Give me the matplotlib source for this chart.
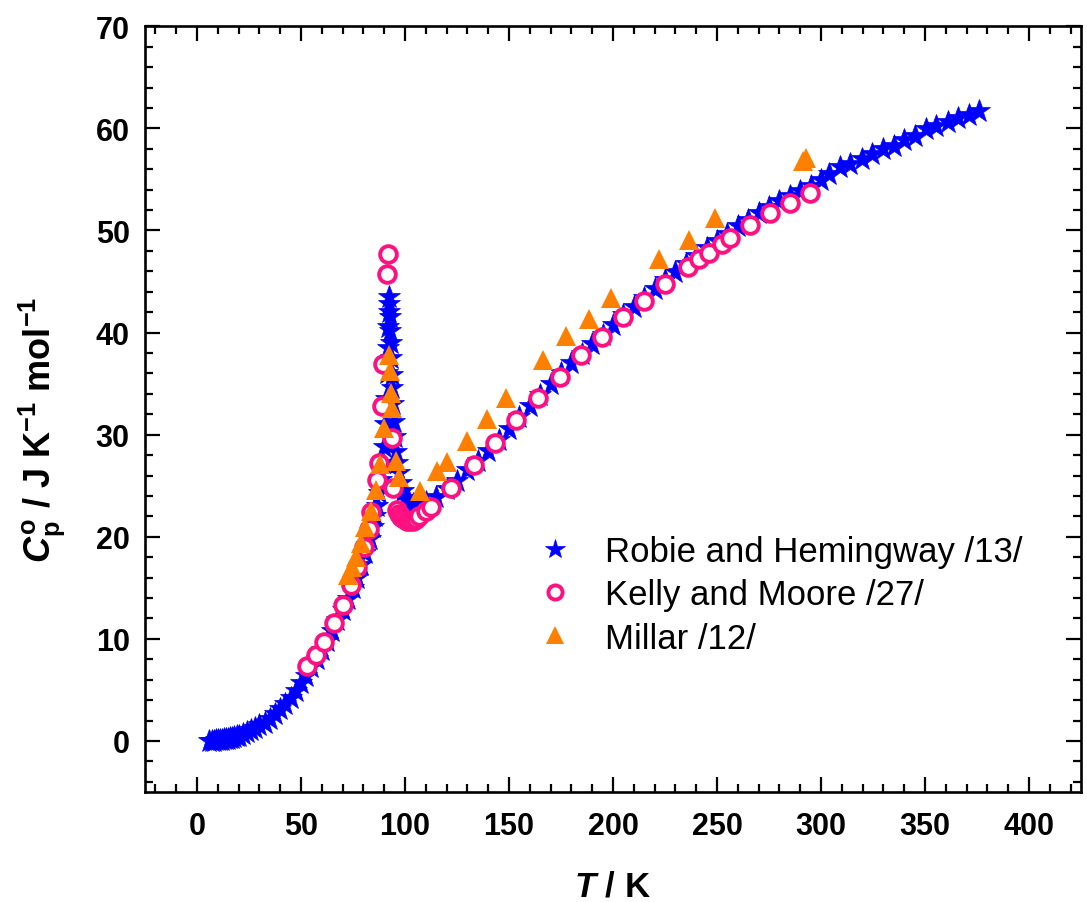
#!/usr/bin/env python3

from matplotlib import pyplot as plt
from matplotlib.ticker import MultipleLocator

# Robie and Hemingway /13/
robie_T = [6, 7, 8, 9, 10, 11, 12, 13, 14, 15, 16, 17, 18, 19, 20, 22, 24, 26, 28, 30,
           32.5, 35, 37.5, 40, 42.5, 45, 47.5, 50, 52.5, 55, 57.5, 60, 62.5, 65, 67.5,
           70, 72.5, 75, 77, 79, 81, 83, 84.5, 85.5, 86.5, 87.5, 88.5, 89.3, 90, 90.6,
           91, 91.4, 91.7, 91.9, 92.1, 92.3, 92.5, 92.7, 92.9, 93.1, 93.3, 93.6, 93.9,
           94.3, 94.8, 95.2, 95.7, 96.3, 97, 98, 99, 100.5, 102, 104, 106, 110, 115,
           120, 125, 130, 135, 140, 145, 150, 155, 160, 165, 170, 175, 180, 185, 190,
           195, 200, 205, 210, 215, 220, 225, 230, 235, 240, 245, 250, 255, 260, 265,
           270, 275, 280, 285, 290, 295, 300, 304, 309, 314, 319.6, 324.4, 330, 335,
           340, 345, 350.7, 355.5, 361, 366, 371, 376]
robie_Cp = [0.01, 0.02, 0.03, 0.05, 0.07, 0.09, 0.12, 0.15, 0.19, 0.23, 0.28, 0.33, 0.39,
            0.45, 0.52, 0.67, 0.85, 1.05, 1.28, 1.52, 1.8, 2.2, 2.6, 3.1, 3.6, 4.2, 4.9,
            5.7, 6.4, 7.2, 8.0, 8.9, 9.8, 10.8, 11.8, 12.8, 13.9, 15.0, 16.0, 17.2, 18.4,
            19.8, 21.0, 22.0, 23.0, 24.3, 25.6, 27.2, 28.8, 31.0, 33.5, 36.0, 38.5, 40.5,
            42.0, 43.5, 42.8, 41.5, 40.2, 39.0, 37.5, 35.8, 34.6, 33.0, 31.2, 29.8, 28.3,
            27.2, 26.2, 25.3, 24.5, 23.8, 23.4, 23.2, 23.2, 23.4, 23.9, 24.7, 25.5, 26.5,
            27.4, 28.4, 29.5, 30.6, 31.7, 32.8, 33.9, 35.0, 36.0, 37.0, 37.9, 38.9, 39.8,
            40.7, 41.7, 42.5, 43.4, 44.3, 45.1, 45.9, 46.7, 47.5, 48.3, 49.0, 49.7, 50.4,
            51.0, 51.7, 52.3, 52.9, 53.4, 53.9, 54.4, 54.9, 55.5, 56.2, 56.5, 57.0, 57.5,
            58.0, 58.3, 58.9, 59.3, 59.9, 60.2, 60.6, 61.0, 61.3, 61.7]

# Kelly and Moore /27/
kelly_T = [53, 57, 61, 66, 70, 74, 77, 80.5, 82.5, 83.7, 86.6, 87.5, 89, 89.2, 91.5, 91.8,
           93.8, 94.3, 96, 97, 98, 99.5, 101, 102.5, 104, 105.5, 106.7, 110, 112.4, 122,
           133, 143.5, 153.6, 164, 174.6, 184.7, 194.7, 204.8, 215, 225, 236, 241.6,
           246, 252.6, 256.5, 266, 275.6, 285, 294.7]
kelly_Cp = [7.3, 8.4, 9.7, 11.6, 13.3, 15.3, 17.0, 19.0, 20.8, 22.4, 25.6, 27.2, 32.8, 36.9,
            45.7, 47.7, 29.7, 24.8, 22.6, 22.2, 21.9, 21.7, 21.5, 21.5, 21.5, 21.7, 22.0,
            22.5, 22.9, 24.8, 27.0, 29.2, 31.4, 33.6, 35.6, 37.8, 39.6, 41.5, 43.1, 44.8,
            46.4, 47.2, 47.8, 48.7, 49.3, 50.5, 51.7, 52.7, 53.7]

# Millar /12/
millar_T = [72.7, 74.6, 76.5, 79, 80.9, 83.7, 86, 88, 90, 92.3, 92.8, 93.2, 93.8, 95.7, 97,
            107, 115.3, 120, 129.7, 139.2, 148.8, 166.5, 177.5, 188.5, 199, 222, 236.4,
            249.3, 291.5, 293]
millar_Cp = [16.3, 17.0, 18.0, 19.4, 21.0, 22.5, 24.6, 27.1, 30.7, 37.8, 36.2, 34.1, 32.6,
             27.4, 25.9, 24.5, 26.4, 27.3, 29.4, 31.5, 33.6, 37.3, 39.7, 41.3, 43.4, 47.2,
             49.1, 51.2, 56.8, 57.1]


def main():
    plt.rcParams['font.family'] = ['Liberation Sans', 'DejaVu Sans']
    plt.rcParams['mathtext.fontset'] = 'custom'
    plt.rcParams['mathtext.rm'] = 'Liberation Sans:bold'
    plt.rcParams['mathtext.it'] = 'Liberation Sans:italic:bold'
    plt.rcParams['mathtext.bf'] = 'Liberation Sans:bold'

    fig = plt.figure(figsize=(10.87, 9.03), dpi=100)
    ax = fig.add_axes([0.1334, 0.1218, 0.861, 0.848])

    ax.plot(robie_T, robie_Cp, linestyle='none', marker='*', markersize=17,
            color='#0000ff', markeredgewidth=0.5, label='Robie and Hemingway /13/')
    ax.plot(kelly_T, kelly_Cp, linestyle='none', marker='o', markersize=12,
            markerfacecolor='white', markeredgecolor='#ff1080', markeredgewidth=2.8,
            label='Kelly and Moore /27/')
    ax.plot(millar_T, millar_Cp, linestyle='none', marker='^', markersize=15,
            color='#ff8000', markeredgewidth=0, label='Millar /12/')

    ax.set_xlim(-25, 425)
    ax.set_ylim(-5, 70)
    ax.xaxis.set_major_locator(MultipleLocator(50))
    ax.xaxis.set_minor_locator(MultipleLocator(10))
    ax.yaxis.set_major_locator(MultipleLocator(10))
    ax.yaxis.set_minor_locator(MultipleLocator(2))

    # ticks inside on all four sides
    ax.tick_params(which='both', direction='in', top=True, right=True, width=1.6)
    ax.tick_params(which='major', length=10.5, labelsize=22)
    ax.tick_params(axis='x', which='major', pad=14)
    ax.tick_params(axis='y', which='major', pad=11)
    ax.tick_params(which='minor', length=5.5)
    for lab in ax.get_xticklabels() + ax.get_yticklabels():
        lab.set_fontweight('bold')
    for sp in ax.spines.values():
        sp.set_linewidth(1.9)

    ax.set_xlabel('$T$ / K', fontsize=25, fontweight='bold', labelpad=20)
    ax.set_ylabel(r'$C_\mathrm{p}^\mathrm{o}$ / J K$^{-1}$ mol$^{-1}$', fontsize=26,
                  fontweight='bold')
    ax.yaxis.set_label_coords(-0.083, 0.474)

    ax.legend(loc='upper left', bbox_to_anchor=(0.419, 0.336), frameon=False,
              fontsize=25, handlelength=1.0, handletextpad=0.95, labelspacing=0.3,
              borderpad=0, borderaxespad=0, markerscale=0.85)

    fig.savefig('out.png', dpi=100)


if __name__ == "__main__":
    main()
